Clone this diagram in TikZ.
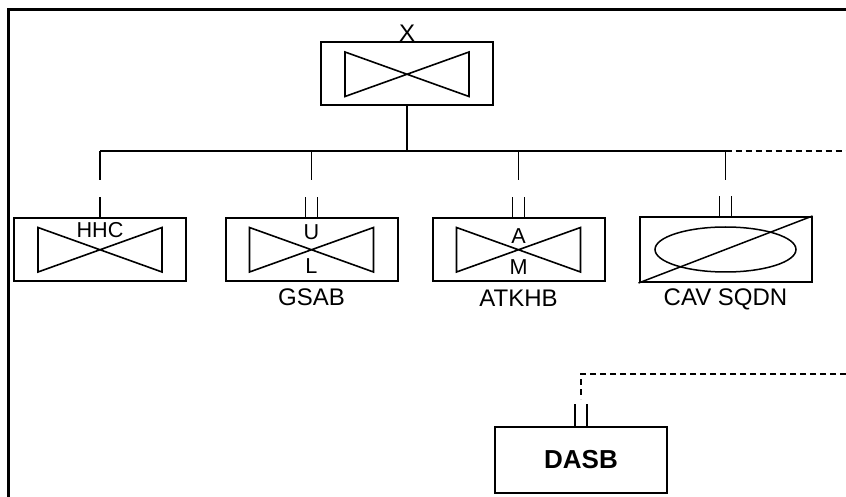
\documentclass[tikz,border=0pt]{standalone}
\usepackage{fontspec}
\setmainfont{Liberation Sans}
\usetikzlibrary{calc}
\tikzset{
  unitbox/.style={draw, line width=1pt, minimum width=86pt, minimum height=31.5pt, inner sep=0pt},
  bowtie/.style={unitbox,
    path picture={
      \draw[line width=0.8pt]
        ([shift={(12pt,-4.75pt)}]path picture bounding box.north west)
        -- ([shift={(-12pt,4.5pt)}]path picture bounding box.south east)
        -- ([shift={(-12pt,-4.75pt)}]path picture bounding box.north east)
        -- ([shift={(12pt,4.5pt)}]path picture bounding box.south west) -- cycle;}},
  link/.style={line width=0.75pt},
  feed/.style={link, dash pattern=on 3pt off 2pt},
  inlabel/.style={font=\fontsize{10.8}{13}\selectfont, inner sep=0pt},
  caption/.style={font=\fontsize{12}{14}\selectfont, inner sep=0pt},
  }

\begin{document}
\begin{tikzpicture}[x=0.5pt, y=-0.5pt]
            \useasboundingbox (0,0) rectangle (846,497);

            % Frame
            \draw[line width=1.5pt] (8,497) -- (8,10) -- (846,10);

            % Units
            \node[bowtie] (xhq)   at (407,74)    {};
            \node[bowtie] (hhc)   at (100,249.5) {};
            \node[bowtie] (gsab)  at (311.5,249.5) {};
            \node[bowtie] (atkhb) at (518.5,249.5) {};
            \node[unitbox, minimum height=32.5pt] (cav) at (725.5,249.5) {};
            \node[unitbox, minimum height=33pt] (dasb) at (581,460)
                 {\fontsize{13}{15}\selectfont\bfseries DASB};

            % Cavalry symbol
            \draw[link] (cav.south west) -- (cav.north east);
            \draw[link] (cav.center) ellipse [x radius=35.25pt, y radius=11.25pt];

            % Labels
            \node[caption, anchor=south] (xlbl) at (xhq.north) {X};
            \node[inlabel] (hhclbl) at ([yshift=9.5pt]hhc.center) {HHC};
            \node[inlabel] (ulbl) at ([yshift=8.5pt]gsab.center) {U};
            \node[inlabel] (llbl) at ([yshift=-8.5pt]gsab.center) {L};
            \node[inlabel] (albl) at ([yshift=6.5pt]atkhb.center) {A};
            \node[inlabel] (mlbl) at ([yshift=-9pt]atkhb.center) {M};
            \node[caption] (gsablbl)  at ([yshift=-7.5pt]gsab.south)  {GSAB};
            \node[caption] (atkhblbl) at ([yshift=-8pt]atkhb.south) {ATKHB};
            \node[caption] (cavlbl)   at ([yshift=-8pt]cav.south)   {CAV SQDN};

            % Bus
            \coordinate (bus) at (407,151);
            \coordinate (eastA) at (846,151);
            \coordinate (eastB) at (846,374);
            \draw[link] (xhq.south) -- (bus);
            \draw[link] (hhc.north |- bus) -- (cav.north |- bus);
            \foreach \u in {hhc,gsab,atkhb,cav}
                \draw[link] (\u.north |- bus) -- ++(0,-14.5pt);

            % Stubs
            \draw[link] (hhc.north) -- ++(0,10pt);
            \foreach \u in {gsab,atkhb,cav}
                \draw[link] ([xshift=-3pt]\u.north) -- ++(0,10pt)
                            ([xshift=3pt]\u.north) -- ++(0,10pt);
            \draw[link] ([xshift=-3pt]dasb.north) -- ++(0,11pt)
                        ([xshift=3pt]dasb.north) -- ++(0,11pt);

            % Dashes
            \draw[feed] (cav.north |- bus) -- (eastA);
            \draw[feed] (eastB) -| ([yshift=13.5pt]dasb.north);
\end{tikzpicture}
\end{document}
